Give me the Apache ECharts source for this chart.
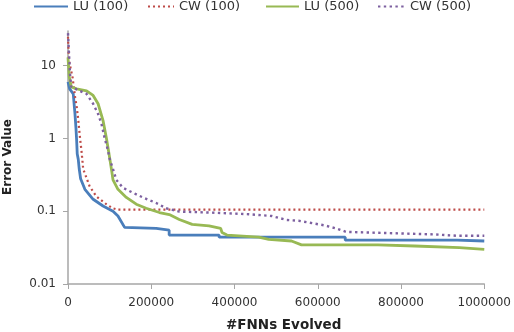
<!DOCTYPE html>
<html><head><meta charset="utf-8">
<script src="https://cdn.jsdelivr.net/npm/echarts@6/dist/echarts.min.js"></script>
<style>html,body{margin:0;padding:0;background:#fff}#c{width:514px;height:332px}</style>
</head><body><div id="c"></div>
<script>
var seriesNames = ['LU (100)', 'CW (100)', 'LU (500)', 'CW (500)'];
var yTickValues = [0.01, 0.1, 1, 10];
var yTickLabels = ['0.01', '0.1', '1', '10'];
var xTickLabels = ['0', '200000', '400000', '600000', '800000', '1000000'];

var lu100X = [0, 4000, 12600, 16700, 19100, 20800, 22200, 24600, 27000, 30300, 40600, 60400, 84200, 108100, 120000, 136000, 212000, 212000, 243000, 243000, 363000, 363000, 666000, 666000, 935000, 935000, 1000000];
var lu100Y = [6, 4.8, 4.1, 2.2, 1.4, 0.93, 0.61, 0.52, 0.38, 0.28, 0.2, 0.146, 0.118, 0.1, 0.086, 0.06, 0.058, 0.055, 0.055, 0.047, 0.047, 0.044, 0.044, 0.040, 0.040, 0.039, 0.039];

var cw100X = [0, 2000, 11000, 17000, 21000, 24000, 29000, 32700, 36500, 52000, 68000, 92000, 107000, 120000, 1000000];
var cw100Y = [25, 12, 6.9, 3.7, 2.7, 1.95, 1.0, 0.65, 0.38, 0.22, 0.16, 0.125, 0.11, 0.105, 0.105];

var lu500X = [0, 3000, 8000, 20800, 44600, 60400, 72300, 84200, 92400, 98600, 104300, 108100, 120000, 140100, 164000, 187800, 219600, 243400, 267300, 298300, 338900, 366800, 370000, 381900, 458200, 482100, 537000, 560900, 744600, 744600, 833000, 833000, 940300, 940300, 1000000];
var lu500Y = [13, 7, 5.1, 4.8, 4.5, 3.9, 3.0, 1.76, 1.0, 0.61, 0.38, 0.27, 0.2, 0.155, 0.125, 0.11, 0.096, 0.09, 0.077, 0.066, 0.063, 0.058, 0.051, 0.047, 0.044, 0.041, 0.039, 0.0345, 0.0345, 0.0333, 0.0333, 0.0317, 0.0317, 0.030, 0.030];

var cw500X = [0, 4800, 8000, 28600, 44600, 60400, 72300, 80400, 88300, 96200, 100200, 108100, 116000, 132000, 155600, 179500, 211700, 235600, 267300, 338900, 434400, 489300, 510000, 525100, 553700, 577600, 615800, 644500, 668300, 880700, 935000, 1000000];
var cw500Y = [28, 7.7, 5.1, 4.5, 4.1, 3.0, 2.17, 1.58, 1.0, 0.68, 0.52, 0.38, 0.27, 0.21, 0.18, 0.155, 0.13, 0.11, 0.099, 0.096, 0.091, 0.086, 0.08, 0.076, 0.074, 0.07, 0.064, 0.058, 0.052, 0.048, 0.046, 0.046];

function zip(xs, ys) { return xs.map(function (x, i) { return [x, ys[i]]; }); }

var colors = ['#4A7EBB', '#BE4B48', '#98B954', '#7D60A0'];
var FONT = 'DejaVu Sans';

function legendAt(name, left, w) {
  return {
    data: [name], left: left, top: 0, padding: 0, itemWidth: w, itemHeight: 12,
    itemStyle: { opacity: 0 },
    textStyle: { fontFamily: FONT, fontSize: 13, color: '#333' }
  };
}

var chart = echarts.init(document.getElementById('c'), null, { renderer: 'canvas' });
chart.setOption({
  animation: false,
  backgroundColor: '#fff',
  color: colors,
  legend: [
    legendAt(seriesNames[0], 33, 34),
    legendAt(seriesNames[1], 147, 26),
    legendAt(seriesNames[2], 265, 33),
    legendAt(seriesNames[3], 377, 27)
  ],
  grid: { left: 68, right: 27, top: 31, bottom: 48, containLabel: false },
  xAxis: {
    type: 'value', min: 0, max: 1000000, interval: 200000,
    axisLine: { show: true, lineStyle: { color: '#A6A6A6', width: 1.5 } },
    axisTick: { show: true, length: 5, lineStyle: { color: '#A6A6A6' } },
    splitLine: { show: false },
    axisLabel: {
      margin: 13, fontFamily: FONT, fontSize: 12, color: '#333',
      formatter: function (v) { return xTickLabels[Math.round(v / 200000)]; }
    }
  },
  yAxis: {
    type: 'log', logBase: 10, min: 0.01, max: 30,
    axisLine: { show: true, lineStyle: { color: '#A6A6A6', width: 1.5 } },
    axisTick: { show: true, length: 5, lineStyle: { color: '#A6A6A6' }, customValues: yTickValues },
    splitLine: { show: false },
    axisLabel: {
      margin: 12, fontFamily: FONT, fontSize: 12, color: '#333',
      customValues: yTickValues,
      formatter: function (v) {
        for (var i = 0; i < yTickValues.length; i++) {
          if (Math.abs(Math.log10(v) - Math.log10(yTickValues[i])) < 1e-6) return yTickLabels[i];
        }
        return '';
      }
    }
  },
  graphic: [
    { type: 'text', left: 226, top: 318, style: { text: '#FNNs Evolved', fontFamily: FONT, fontWeight: 'bold', fontSize: 13.5, fill: '#222' } },
    { type: 'text', x: 8, y: 157, rotation: Math.PI / 2, style: { text: 'Error Value', fontFamily: FONT, fontWeight: 'bold', fontSize: 12, fill: '#222', align: 'center', verticalAlign: 'middle' } }
  ],
  series: [
    { name: seriesNames[0], type: 'line', symbol: 'none', data: zip(lu100X, lu100Y), lineStyle: { width: 2.8, color: colors[0] } },
    { name: seriesNames[1], type: 'line', symbol: 'none', data: zip(cw100X, cw100Y), lineStyle: { width: 2.2, color: colors[1], type: [2, 3] } },
    { name: seriesNames[2], type: 'line', symbol: 'none', data: zip(lu500X, lu500Y), lineStyle: { width: 2.8, color: colors[2] } },
    { name: seriesNames[3], type: 'line', symbol: 'none', data: zip(cw500X, cw500Y), lineStyle: { width: 2.4, color: colors[3], type: [2.4, 3.4] } }
  ]
});
</script></body></html>
